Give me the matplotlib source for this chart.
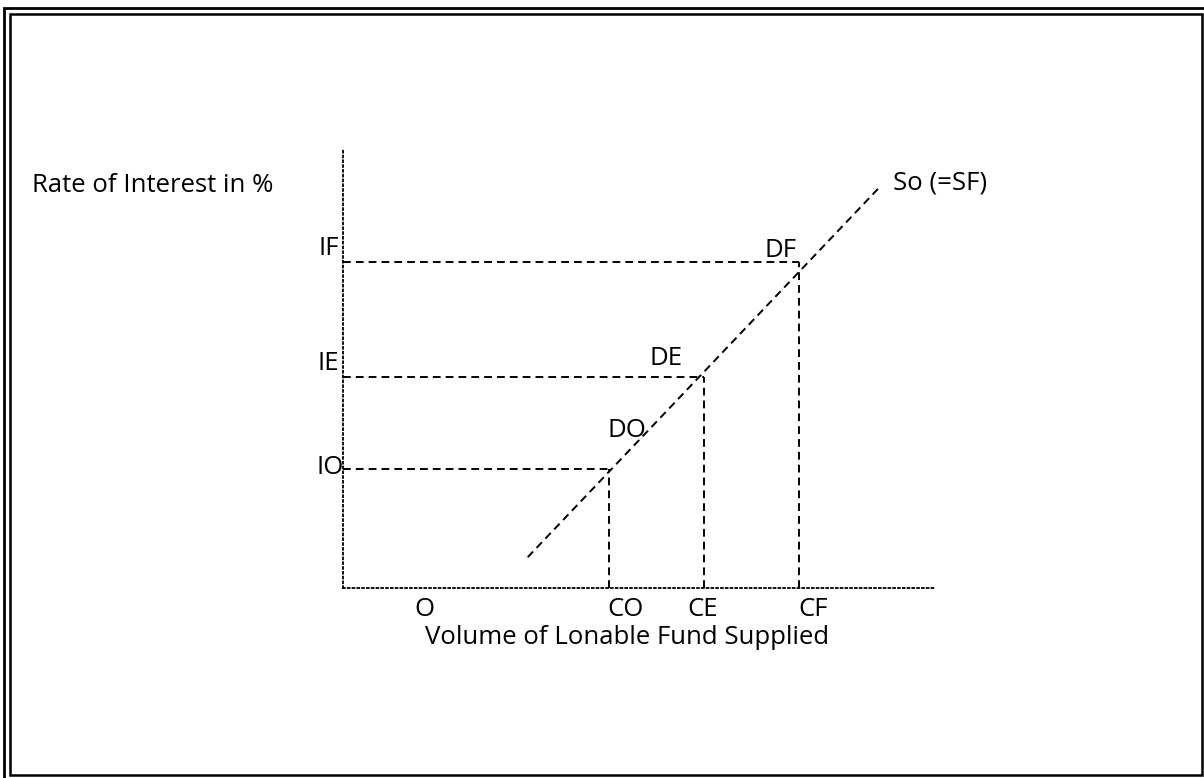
import matplotlib
matplotlib.use("Agg")
import matplotlib.pyplot as plt
from matplotlib.patches import Rectangle
from matplotlib import transforms

# ---- data (arbitrary units) ----
quantities = [4.5, 6.1, 7.7]          # CO, CE, CF
rates = [2.7, 4.8, 7.4]               # IO, IE, IF
q_labels = ["CO", "CE", "CF"]
r_labels = ["IO", "IE", "IF"]
d_labels = ["DO", "DE", "DF"]
supply_q = [3.12, 9.05]
supply_r = [0.70, 9.09]
supply_label = "So (=SF)"
x_title = "Volume of Lonable Fund Supplied"
y_title = "Rate of Interest in %"
origin_label = "O"

W, H = 1204, 778
plt.rcParams['font.family'] = ['Open Sans', 'DejaVu Sans']
fs = 18.5

fig = plt.figure(figsize=(W / 100, H / 100), dpi=100)

# double frame
fig.patches.append(Rectangle((4 / W, (H - 784) / H), 1210 / W, 776 / H,
                             transform=fig.transFigure, fill=False,
                             ec='black', lw=2.0))
fig.patches.append(Rectangle((10 / W, (H - 775) / H), 1192 / W, 761 / H,
                             transform=fig.transFigure, fill=False,
                             ec='black', lw=1.8))

ax = fig.add_axes([343 / W, (H - 588) / H, 592 / W, 440 / H])
ax.set_xlim(0, 10)
ax.set_ylim(0, 10)
ax.patch.set_alpha(0)
for s in ['top', 'right']:
    ax.spines[s].set_visible(False)
for s in ['left', 'bottom']:
    ax.spines[s].set_linestyle(':')
    ax.spines[s].set_linewidth(1.3)
ax.set_xticks([])
ax.set_yticks([])

dash = dict(color='black', lw=1.4, dashes=(4.0, 2.6))
ax.plot(supply_q, supply_r, **dash, clip_on=False)
for q, r in zip(quantities, rates):
    ax.plot([0, q], [r, r], **dash, clip_on=False)
    ax.plot([q, q], [0, r], **dash, clip_on=False)


def off(dx, dy):
    return transforms.offset_copy(ax.transData, fig=fig, x=dx, y=dy, units='dots')


# rate labels (left of y-axis)
r_offsets = [(1, 2), (-4, 13), (-4, 14)]
for lab, r, (dx, dy) in zip(r_labels, rates, r_offsets):
    ax.text(0, r, lab, transform=off(dx, dy), ha='right', va='center', fontsize=fs)

# quantity labels (below x-axis)
q_has = ['left', 'center', 'left']
q_dx = [-2, -1, 0]
for lab, q, ha, dx in zip(q_labels, quantities, q_has, q_dx):
    ax.text(q, 0, lab, transform=off(dx, -21), ha=ha, va='center', fontsize=fs)

ax.text(0, 0, origin_label, transform=off(81, -21), ha='center', va='center', fontsize=fs)

# point labels
d_pos = [(-2, 39, 'left'), (-22, 18, 'right'), (-2, 12, 'right')]
for lab, q, r, (dx, dy, ha) in zip(d_labels, quantities, rates, d_pos):
    ax.text(q, r, lab, transform=off(dx, dy), ha=ha, va='center', fontsize=fs)

ax.text(supply_q[1], supply_r[1], supply_label, transform=off(14, 5),
        ha='left', va='center', fontsize=fs)

# titles
fig.text(32 / W, (H - 185) / H, y_title, ha='left', va='center', fontsize=fs)
ax.text(0.5, 0, x_title, transform=transforms.offset_copy(
    ax.transAxes, fig=fig, x=-12, y=-49, units='dots'),
    ha='center', va='center', fontsize=fs)

fig.savefig("out.png", dpi=100)
